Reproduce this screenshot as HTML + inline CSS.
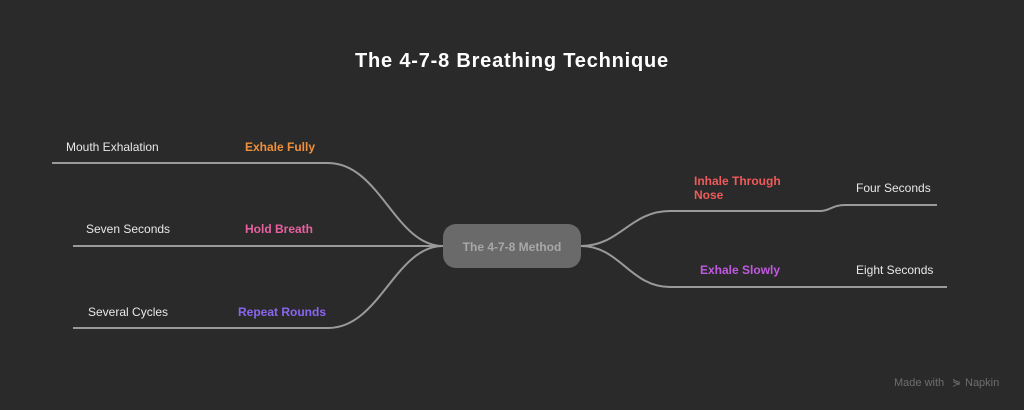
<!DOCTYPE html>
<html><head><meta charset="utf-8"><style>
html,body{margin:0;padding:0;background:#2a2a2a;}
body{width:1024px;height:410px;overflow:hidden;position:relative;font-family:"Liberation Sans",sans-serif;}
</style></head><body>
<svg width="1024" height="410" viewBox="0 0 1024 410" style="position:absolute;left:0;top:0">
<rect width="1024" height="410" fill="#2a2a2a"/>
<text x="512" y="67" text-anchor="middle" fill="#ffffff" font-size="20" font-weight="bold" letter-spacing="0.8" font-family="Liberation Sans, sans-serif">The 4-7-8 Breathing Technique</text>
<g fill="none" stroke="#9a9a9a" stroke-width="2">
<path d="M52 163 H328 C380 163 395 246 443 246"/>
<path d="M73 246 H443"/>
<path d="M73 328 H328 C380 328 395 246 443 246"/>
<path d="M581 246 C620 246 630 211 670 211 H820 C830 211 832 205 845 205 H937"/>
<path d="M581 246 C620 246 630 287 670 287 H947"/>
</g>
<rect x="443" y="224" width="138" height="44" rx="13" fill="#6a6a6a"/>
<text x="512" y="251" text-anchor="middle" fill="#a8a8a8" font-size="12" font-weight="bold">The 4-7-8 Method</text>
<g font-size="12" fill="#e8e8e8">
<text x="66" y="151">Mouth Exhalation</text>
<text x="86" y="233">Seven Seconds</text>
<text x="88" y="316">Several Cycles</text>
<text x="856" y="192">Four Seconds</text>
<text x="856" y="274">Eight Seconds</text>
</g>
<g font-size="12" font-weight="bold">
<text x="245" y="151" fill="#f0903a">Exhale Fully</text>
<text x="245" y="233" fill="#e8609f">Hold Breath</text>
<text x="238" y="316" fill="#8a66f0">Repeat Rounds</text>
<text x="694" y="185" fill="#ef5a5a">Inhale Through</text>
<text x="694" y="199" fill="#ef5a5a">Nose</text>
<text x="700" y="274" fill="#c05ae0">Exhale Slowly</text>
</g>
<text x="894" y="386" fill="#6e6e6e" font-size="11">Made with</text>
<text x="952" y="386" fill="#6e6e6e" font-size="11">⋟</text>
<text x="965" y="386" fill="#6e6e6e" font-size="11">Napkin</text>
</svg>
</body></html>
